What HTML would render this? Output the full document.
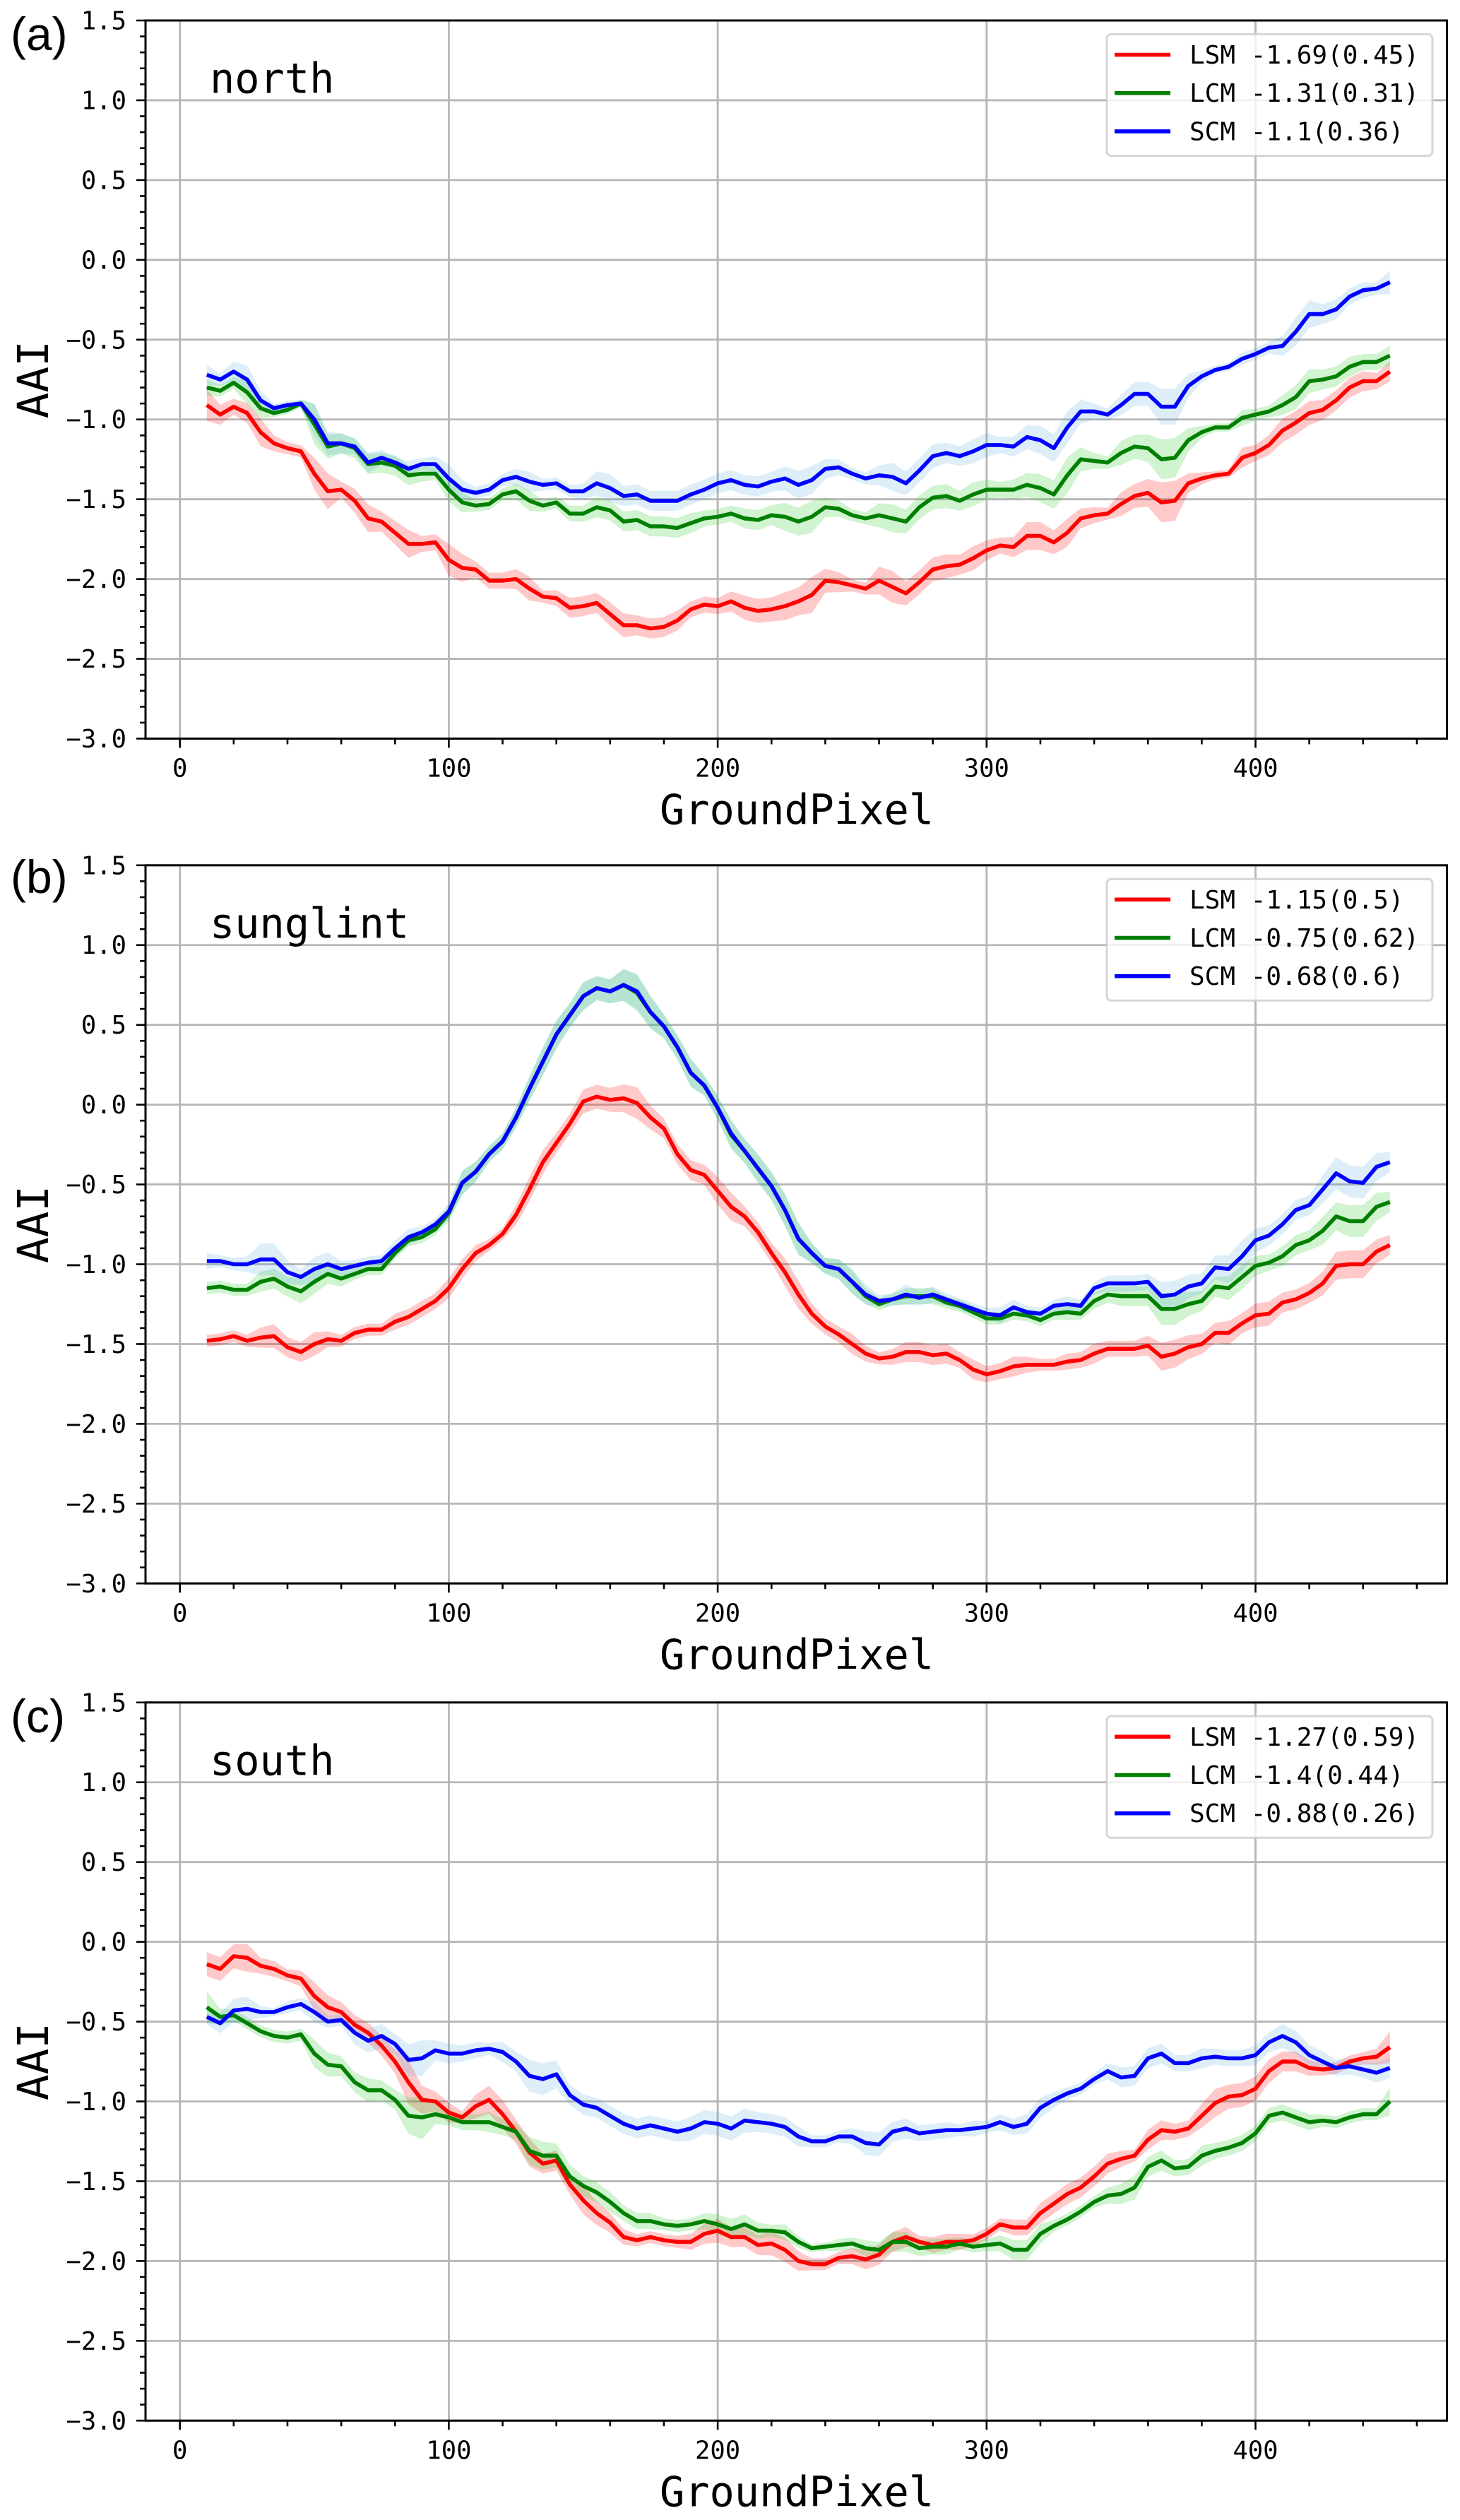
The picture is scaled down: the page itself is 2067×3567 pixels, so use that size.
<!DOCTYPE html>
<html lang="en">
<head>
<meta charset="utf-8">
<title>AAI by ground pixel</title>
<style>
html,body{margin:0;padding:0;background:#fff;width:2067px;height:3567px;overflow:hidden}
svg{display:block}
text{font-family:"DejaVu Sans Mono","Liberation Mono",monospace;fill:#000}
.panel-tag{font-family:"Liberation Sans",sans-serif}
</style>
</head>
<body>
<svg id="chart" xmlns="http://www.w3.org/2000/svg" width="2067" height="3567" viewBox="0 0 2067 3567"></svg>
<script>
// ---- Data: ground pixel categories ----
const groundPixels = [
10,15,20,25,30,35,40,45,50,55,60,65,70,75,80,85,90,95,100,105,
110,115,120,125,130,135,140,145,150,155,160,165,170,175,180,185,190,195,200,205,
210,215,220,225,230,235,240,245,250,255,260,265,270,275,280,285,290,295,300,305,
310,315,320,325,330,335,340,345,350,355,360,365,370,375,380,385,390,395,400,405,
410,415,420,425,430,435,440,445,450];

// ---- Axis tick labels ----
const xTickLabels = [0,100,200,300,400];
const xMinorTicks = [20,40,60,80,120,140,160,180,220,240,260,280,320,340,360,380,420,440,460];
const yTickLabels = [1.5,1.0,0.5,0.0,-0.5,-1.0,-1.5,-2.0,-2.5,-3.0];
const yMinorTicks = [1.4,1.3,1.2,1.1,0.9,0.8,0.7,0.6,0.4,0.3,0.2,0.1,-0.1,-0.2,-0.3,-0.4,-0.6,-0.7,-0.8,-0.9,-1.1,-1.2,-1.3,-1.4,-1.6,-1.7,-1.8,-1.9,-2.1,-2.2,-2.3,-2.4,-2.6,-2.7,-2.8,-2.9];

// ---- Panel (a) north ----
const northLSM = [
-.91,-.97,-.92,-.96,-1.08,-1.15,-1.18,-1.20,-1.34,-1.45,
-1.44,-1.51,-1.62,-1.64,-1.71,-1.78,-1.78,-1.77,-1.88,-1.93,
-1.94,-2.01,-2.01,-2.00,-2.06,-2.11,-2.12,-2.18,-2.17,-2.15,
-2.22,-2.29,-2.29,-2.31,-2.30,-2.26,-2.19,-2.16,-2.17,
-2.14,-2.18,-2.20,-2.19,-2.17,-2.14,-2.10,-2.01,-2.02,-2.04,
-2.06,-2.01,-2.05,-2.09,-2.02,-1.94,-1.92,-1.91,-1.87,-1.82,
-1.79,-1.80,-1.73,-1.73,-1.77,-1.71,-1.62,-1.60,-1.59,-1.53,
-1.48,-1.46,-1.52,-1.51,-1.40,-1.37,-1.35,-1.34,-1.24,-1.21,
-1.16,-1.07,-1.02,-.96,-.94,-.88,-.80,-.76,-.76,-.70];
const northLCM = [
-.80,-.82,-.77,-.83,-.93,-.96,-.94,-.90,-1.03,-1.17,
-1.15,-1.18,-1.28,-1.27,-1.29,-1.35,-1.34,-1.34,-1.44,-1.52,
-1.54,-1.53,-1.47,-1.45,-1.51,-1.54,-1.52,-1.59,-1.59,-1.55,
-1.57,-1.64,-1.63,-1.67,-1.67,-1.68,-1.65,-1.62,-1.61,
-1.59,-1.62,-1.63,-1.60,-1.61,-1.64,-1.61,-1.55,-1.56,-1.60,
-1.62,-1.60,-1.62,-1.64,-1.55,-1.49,-1.48,-1.51,-1.47,-1.44,
-1.44,-1.44,-1.41,-1.43,-1.47,-1.35,-1.25,-1.26,-1.27,-1.21,
-1.17,-1.18,-1.25,-1.24,-1.13,-1.08,-1.05,-1.05,-.99,-.97,
-.95,-.91,-.86,-.76,-.75,-.73,-.67,-.64,-.64,-.60];
const northSCM = [
-.72,-.75,-.70,-.75,-.88,-.93,-.91,-.90,-1.00,-1.15,
-1.15,-1.17,-1.27,-1.24,-1.27,-1.31,-1.28,-1.28,-1.37,-1.44,
-1.46,-1.44,-1.38,-1.36,-1.39,-1.41,-1.40,-1.45,-1.45,-1.40,
-1.43,-1.48,-1.47,-1.51,-1.51,-1.51,-1.47,-1.44,-1.40,
-1.38,-1.41,-1.42,-1.39,-1.37,-1.41,-1.38,-1.31,-1.30,-1.34,
-1.37,-1.35,-1.36,-1.40,-1.32,-1.23,-1.21,-1.23,-1.20,-1.16,
-1.16,-1.17,-1.11,-1.13,-1.18,-1.05,-.95,-.95,-.97,-.91,
-.84,-.84,-.92,-.92,-.79,-.73,-.69,-.67,-.62,-.59,
-.55,-.54,-.45,-.34,-.34,-.31,-.23,-.19,-.18,-.14];
const northLSMSpread = [
.08,.05,.04,.05,.07,.04,.03,.03,.08,.09,
.04,.06,.07,.05,.06,.07,.04,.04,.08,.07,
.04,.04,.04,.05,.06,.03,.04,.05,.05,.05,
.06,.06,.05,.05,.05,.05,.04,.04,.04,
.05,.06,.06,.06,.07,.07,.09,.06,.05,.03,
.03,.07,.08,.06,.06,.06,.06,.05,.06,.05,
.04,.05,.07,.07,.06,.07,.05,.04,.03,.06,
.06,.07,.10,.10,.05,.03,.02,.02,.05,.04,
.05,.06,.06,.06,.05,.05,.05,.05,.04,.05];
const northLCMSpread = [
.04,.03,.03,.06,.05,.02,.02,.02,.10,.06,
.05,.05,.05,.05,.05,.05,.04,.03,.06,.05,
.03,.03,.03,.04,.05,.03,.03,.04,.04,.05,
.05,.05,.05,.05,.05,.05,.05,.04,.04,
.04,.05,.05,.05,.07,.07,.08,.05,.04,.03,
.03,.06,.07,.06,.06,.06,.06,.05,.06,.05,
.04,.05,.06,.07,.07,.09,.06,.04,.03,.06,
.06,.07,.10,.10,.06,.03,.02,.02,.04,.03,
.03,.05,.06,.06,.05,.05,.05,.04,.04,.05];
const northSCMSpread = [
.05,.03,.05,.07,.05,.02,.02,.02,.08,.06,
.05,.04,.05,.04,.03,.04,.03,.04,.07,.05,
.03,.03,.03,.04,.05,.03,.03,.03,.04,.06,
.07,.05,.05,.05,.05,.05,.05,.05,.05,
.05,.05,.05,.05,.06,.07,.07,.05,.04,.03,
.03,.05,.07,.06,.06,.06,.05,.05,.06,.06,
.04,.05,.06,.07,.07,.08,.06,.04,.03,.05,
.06,.06,.09,.09,.06,.03,.02,.02,.03,.03,
.03,.05,.07,.07,.05,.05,.04,.04,.03,.06];

// ---- Panel (b) sunglint ----
const sunglintLSM = [
-1.48,-1.47,-1.45,-1.48,-1.46,-1.45,-1.52,-1.55,-1.50,-1.47,
-1.48,-1.43,-1.41,-1.41,-1.36,-1.33,-1.28,-1.23,-1.15,-1.03,
-.93,-.88,-.81,-.69,-.53,-.36,-.24,-.12,.02,.05,
.03,.04,.01,-.08,-.15,-.31,-.41,-.44,-.54,
-.64,-.70,-.80,-.93,-1.05,-1.19,-1.31,-1.39,-1.44,-1.50,
-1.56,-1.59,-1.58,-1.55,-1.55,-1.57,-1.56,-1.60,-1.66,-1.69,
-1.67,-1.64,-1.63,-1.63,-1.63,-1.61,-1.60,-1.56,-1.53,-1.53,
-1.53,-1.51,-1.58,-1.56,-1.52,-1.50,-1.43,-1.43,-1.37,-1.32,
-1.31,-1.24,-1.22,-1.18,-1.12,-1.01,-1.00,-1.00,-.92,-.88];
const sunglintLCM = [
-1.15,-1.14,-1.16,-1.16,-1.11,-1.09,-1.14,-1.17,-1.11,-1.06,
-1.09,-1.06,-1.03,-1.03,-.93,-.85,-.83,-.78,-.68,-.49,
-.42,-.31,-.23,-.08,.10,.27,.44,.56,.68,.73,
.71,.75,.70,.58,.49,.36,.20,.12,-.02,
-.19,-.29,-.40,-.51,-.66,-.84,-.93,-1.01,-1.03,-1.11,
-1.20,-1.25,-1.22,-1.20,-1.20,-1.20,-1.24,-1.26,-1.30,-1.34,
-1.34,-1.31,-1.32,-1.35,-1.31,-1.30,-1.31,-1.23,-1.19,-1.20,
-1.20,-1.20,-1.28,-1.28,-1.25,-1.23,-1.14,-1.15,-1.08,-1.01,
-.99,-.95,-.88,-.85,-.79,-.70,-.73,-.73,-.64,-.61];
const sunglintSCM = [
-.98,-.98,-1.00,-1.00,-.97,-.97,-1.05,-1.08,-1.03,-1.00,
-1.03,-1.01,-.99,-.98,-.90,-.83,-.80,-.75,-.67,-.49,
-.42,-.31,-.23,-.08,.10,.27,.44,.56,.68,.73,
.71,.75,.71,.58,.49,.36,.20,.12,-.02,
-.18,-.29,-.40,-.51,-.66,-.84,-.93,-1.01,-1.03,-1.11,
-1.19,-1.23,-1.22,-1.19,-1.21,-1.19,-1.22,-1.25,-1.28,-1.31,
-1.32,-1.27,-1.30,-1.31,-1.26,-1.25,-1.26,-1.15,-1.12,-1.12,
-1.12,-1.11,-1.20,-1.19,-1.14,-1.12,-1.02,-1.03,-.95,-.85,
-.82,-.75,-.66,-.63,-.53,-.43,-.48,-.49,-.39,-.36];
const sunglintLSMSpread = [
.03,.03,.03,.03,.05,.06,.05,.05,.06,.04,
.03,.03,.03,.03,.04,.04,.04,.04,.05,.05,
.04,.03,.03,.05,.06,.06,.05,.05,.06,.06,
.06,.07,.08,.06,.05,.05,.05,.05,.07,
.07,.05,.05,.05,.07,.07,.05,.04,.04,.05,
.04,.03,.04,.05,.05,.05,.05,.04,.05,.04,
.04,.05,.04,.03,.03,.04,.04,.05,.04,.04,
.04,.05,.07,.07,.06,.05,.05,.06,.05,.06,
.06,.05,.05,.05,.06,.07,.07,.07,.06,.05];
const sunglintLCMSpread = [
.03,.03,.03,.03,.05,.05,.05,.06,.06,.05,
.04,.03,.03,.03,.03,.03,.03,.03,.04,.06,
.05,.04,.04,.05,.06,.07,.07,.06,.07,.06,
.06,.08,.09,.08,.06,.06,.07,.05,.06,
.07,.06,.07,.07,.08,.08,.05,.04,.05,.06,
.04,.03,.03,.04,.04,.04,.03,.03,.03,.03,
.03,.03,.03,.03,.03,.04,.03,.04,.04,.05,
.05,.05,.08,.08,.06,.05,.05,.06,.06,.05,
.04,.05,.05,.05,.07,.07,.08,.08,.07,.05];
const sunglintSCMSpread = [
.04,.03,.03,.04,.08,.08,.06,.04,.06,.06,
.04,.03,.03,.03,.04,.04,.03,.03,.04,.06,
.05,.04,.04,.05,.06,.07,.07,.06,.07,.06,
.06,.08,.09,.08,.06,.06,.07,.05,.06,
.07,.06,.07,.07,.08,.08,.05,.04,.05,.06,
.05,.03,.03,.05,.04,.04,.03,.03,.03,.03,
.04,.04,.03,.03,.03,.04,.03,.03,.04,.04,
.04,.04,.07,.07,.06,.05,.06,.07,.08,.06,
.05,.05,.05,.05,.07,.08,.08,.08,.07,.05];

// ---- Panel (c) south ----
const southLSM = [
-.14,-.17,-.09,-.10,-.15,-.17,-.21,-.23,-.34,-.41,
-.44,-.52,-.57,-.65,-.75,-.88,-.99,-1.00,-1.07,-1.10,
-1.03,-.99,-1.08,-1.19,-1.32,-1.39,-1.37,-1.52,-1.62,-1.70,
-1.76,-1.85,-1.87,-1.85,-1.87,-1.88,-1.88,-1.83,-1.81,
-1.85,-1.85,-1.90,-1.89,-1.93,-2.00,-2.02,-2.02,-1.98,-1.97,
-1.99,-1.96,-1.88,-1.85,-1.88,-1.90,-1.88,-1.88,-1.87,-1.83,
-1.77,-1.79,-1.79,-1.70,-1.64,-1.58,-1.54,-1.47,-1.39,-1.36,
-1.34,-1.24,-1.18,-1.19,-1.17,-1.09,-1.01,-.97,-.96,-.92,
-.81,-.75,-.75,-.79,-.80,-.79,-.75,-.73,-.72,-.66];
const southLCM = [
-.41,-.47,-.46,-.51,-.56,-.59,-.60,-.58,-.70,-.77,
-.78,-.88,-.93,-.93,-.99,-1.09,-1.10,-1.08,-1.10,-1.13,
-1.13,-1.13,-1.16,-1.19,-1.31,-1.34,-1.34,-1.47,-1.53,-1.57,
-1.63,-1.70,-1.75,-1.75,-1.77,-1.78,-1.77,-1.75,-1.77,
-1.80,-1.77,-1.81,-1.81,-1.82,-1.88,-1.92,-1.91,-1.90,-1.89,
-1.92,-1.93,-1.88,-1.88,-1.92,-1.91,-1.91,-1.89,-1.91,-1.90,
-1.89,-1.93,-1.93,-1.83,-1.78,-1.74,-1.69,-1.63,-1.59,-1.58,
-1.54,-1.41,-1.37,-1.42,-1.41,-1.34,-1.31,-1.29,-1.26,-1.20,
-1.09,-1.07,-1.10,-1.13,-1.12,-1.13,-1.10,-1.08,-1.08,-1.00];
const southSCM = [
-.47,-.51,-.43,-.42,-.44,-.44,-.41,-.39,-.44,-.50,
-.49,-.57,-.62,-.59,-.64,-.74,-.73,-.68,-.70,-.70,
-.68,-.67,-.69,-.75,-.84,-.86,-.83,-.96,-1.02,-1.04,
-1.09,-1.14,-1.17,-1.15,-1.17,-1.19,-1.17,-1.13,-1.14,
-1.17,-1.12,-1.13,-1.14,-1.16,-1.22,-1.25,-1.25,-1.22,-1.22,
-1.26,-1.27,-1.19,-1.17,-1.20,-1.19,-1.18,-1.18,-1.17,-1.16,
-1.13,-1.16,-1.14,-1.04,-.99,-.95,-.92,-.86,-.81,-.85,
-.84,-.73,-.70,-.76,-.76,-.73,-.72,-.73,-.73,-.71,
-.63,-.59,-.63,-.71,-.75,-.79,-.78,-.80,-.82,-.79];
const southLSMSpread = [
.06,.06,.06,.07,.04,.04,.03,.04,.07,.06,
.05,.05,.05,.05,.06,.11,.07,.05,.05,.03,
.06,.07,.07,.06,.07,.05,.05,.05,.07,.06,
.05,.04,.03,.03,.03,.03,.04,.05,.06,
.05,.05,.05,.06,.06,.05,.03,.03,.03,.04,
.05,.05,.05,.05,.03,.04,.04,.04,.03,.03,
.03,.04,.04,.05,.05,.05,.05,.05,.05,.04,
.03,.05,.05,.04,.04,.06,.07,.06,.06,.06,
.06,.05,.05,.04,.03,.03,.03,.03,.04,.08];
const southLCMSpread = [
.08,.04,.03,.03,.03,.03,.03,.03,.07,.06,
.05,.05,.06,.05,.05,.09,.11,.05,.04,.04,
.04,.05,.04,.04,.07,.07,.06,.06,.05,.05,
.05,.04,.04,.04,.03,.03,.03,.04,.05,
.05,.05,.04,.03,.04,.03,.02,.02,.03,.03,
.04,.04,.05,.05,.04,.04,.04,.03,.03,.03,
.04,.05,.05,.05,.03,.03,.03,.03,.04,.05,
.06,.05,.05,.04,.04,.05,.04,.04,.04,.04,
.04,.04,.04,.04,.03,.03,.03,.03,.03,.07];
const southSCMSpread = [
.04,.05,.06,.06,.03,.02,.03,.03,.05,.03,
.03,.06,.06,.06,.05,.08,.09,.05,.05,.04,
.04,.03,.05,.05,.08,.08,.07,.05,.05,.05,
.05,.05,.05,.05,.05,.05,.06,.06,.06,
.06,.06,.05,.05,.05,.05,.03,.03,.03,.04,
.06,.06,.05,.05,.04,.04,.04,.03,.04,.03,
.04,.04,.05,.05,.04,.03,.03,.03,.04,.05,
.05,.05,.05,.04,.04,.05,.04,.04,.04,.05,
.05,.06,.06,.05,.05,.04,.04,.04,.05,.05];

// ---- Legend text ----
const northLegend = ['LSM -1.69(0.45)','LCM -1.31(0.31)','SCM -1.1(0.36)'];
const sunglintLegend = ['LSM -1.15(0.5)','LCM -0.75(0.62)','SCM -0.68(0.6)'];
const southLegend = ['LSM -1.27(0.59)','LCM -1.4(0.44)','SCM -0.88(0.26)'];

// ---- Layout ----
const svg = document.getElementById('chart');
const NS = 'http://www.w3.org/2000/svg';
const AX_LEFT = 206, AX_RIGHT = 2048.5, AX_H = 1016.5;
const FONT = 35.5, LEGEND_FONT = 36, BIG = 58.6, BAND_SCALE = 1.25;
const STYLES = [
  {key:'lsm', color:'#ff0000', fill:'#ff0000', op:.21},
  {key:'lcm', color:'#008000', fill:'#32cd32', op:.23},
  {key:'scm', color:'#0000ff', fill:'#3498db', op:.17}
];
function xAxis(v){ return 254.7 + v * 3.807; }
function yAxis(v, top){ return top + (1.5 - v) * (AX_H / 4.5); }

function add(parent, tag, attrs, name, txt){
  const el = document.createElementNS(NS, tag);
  for (const k in attrs) el.setAttribute(k, attrs[k]);
  
  
  if (txt !== undefined) el.textContent = txt;
  parent.appendChild(el);
  return el;
}

function drawPanel(p){
  const top = p.top, bottom = top + AX_H;
  const g = add(svg, 'g', {}, 'panel-' + p.title);

  // grid
  const grid = add(g, 'g', {stroke:'#b6b6b6','stroke-width':2.8}, 'grid-' + p.title);
  xTickLabels.forEach(v => add(grid, 'line', {x1:xAxis(v),x2:xAxis(v),y1:top,y2:bottom}, 'x-gridline'));
  yTickLabels.forEach(v => add(grid, 'line', {x1:AX_LEFT,x2:AX_RIGHT,y1:yAxis(v,top),y2:yAxis(v,top)}, 'y-gridline'));

  // bands
  p.series.forEach((values, i) => {
    const spread = p.spreads[i];
    const up = groundPixels.map((x, j) => xAxis(x).toFixed(1) + ',' + yAxis(values[j] + spread[j] * BAND_SCALE, top).toFixed(1));
    const dn = groundPixels.map((x, j) => xAxis(x).toFixed(1) + ',' + yAxis(values[j] - spread[j] * BAND_SCALE, top).toFixed(1)).reverse();
    add(g, 'polygon', {points: up.concat(dn).join(' '), fill: STYLES[i].fill, 'fill-opacity': STYLES[i].op, stroke:'none'}, STYLES[i].key + '-band');
  });

  // lines
  p.series.forEach((values, i) => {
    const pts = groundPixels.map((x, j) => xAxis(x).toFixed(1) + ',' + yAxis(values[j], top).toFixed(1));
    add(g, 'polyline', {points: pts.join(' '), fill:'none', stroke: STYLES[i].color, 'stroke-width':5.6, 'stroke-linejoin':'round', 'stroke-linecap':'butt'}, STYLES[i].key + '-line');
  });

  // spines
  add(g, 'rect', {x:AX_LEFT,y:top,width:AX_RIGHT-AX_LEFT,height:AX_H,fill:'none',stroke:'#000','stroke-width':3}, 'axes-frame');

  // ticks
  const ticks = add(g, 'g', {stroke:'#000','stroke-width':2.6}, 'ticks-' + p.title);
  xTickLabels.forEach(v => add(ticks, 'line', {x1:xAxis(v),x2:xAxis(v),y1:bottom,y2:bottom+13}, 'x-major-tick'));
  xMinorTicks.forEach(v => add(ticks, 'line', {x1:xAxis(v),x2:xAxis(v),y1:bottom,y2:bottom+8}, 'x-minor-tick'));
  yTickLabels.forEach(v => add(ticks, 'line', {x1:AX_LEFT-13,x2:AX_LEFT,y1:yAxis(v,top),y2:yAxis(v,top)}, 'y-major-tick'));
  yMinorTicks.forEach(v => add(ticks, 'line', {x1:AX_LEFT-8,x2:AX_LEFT,y1:yAxis(v,top),y2:yAxis(v,top)}, 'y-minor-tick'));

  // tick labels
  xTickLabels.forEach(v => add(g, 'text', {x:xAxis(v),y:bottom+54,'font-size':FONT,'text-anchor':'middle'}, 'x-tick-label', String(v)));
  yTickLabels.forEach(v => {
    const s = v.toFixed(1).replace('-', '\u2212');
    add(g, 'text', {x:179,y:yAxis(v,top)+12.5,'font-size':FONT,'text-anchor':'end'}, 'y-tick-label', s);
  });

  // axis titles
  add(g, 'text', {x:1128,y:bottom+121,'font-size':BIG,'text-anchor':'middle'}, 'x-axis-title', 'GroundPixel');
  add(g, 'text', {x:0,y:0,'font-size':61,'text-anchor':'middle',transform:'translate(68,' + (top + AX_H/2) + ') rotate(-90)'}, 'y-axis-title', 'AAI');

  // panel labels
  add(g, 'text', {x:297,y:top+102.5,'font-size':BIG}, 'region-label', p.title);
  const tag = add(g, 'text', {x:15,y:top+p.tagDy,'font-size':66}, 'panel-tag', p.tag);
  tag.setAttribute('class', 'panel-tag');

  // legend
  const lg = add(g, 'g', {}, 'legend-' + p.title);
  add(lg, 'rect', {x:1567,y:top+19.5,width:461,height:172,rx:6,ry:6,fill:'#fff','fill-opacity':.8,stroke:'#cccccc','stroke-opacity':.8,'stroke-width':3}, 'legend-box');
  p.legend.forEach((label, i) => {
    const cy = top + 48.5 + i * 54.2;
    add(lg, 'line', {x1:1578,x2:1657,y1:cy,y2:cy,stroke:STYLES[i].color,'stroke-width':5.6}, 'legend-swatch-' + STYLES[i].key);
    add(lg, 'text', {x:1684,y:cy+12.5,'font-size':LEGEND_FONT}, 'legend-entry-' + STYLES[i].key, label);
  });
}

drawPanel({title:'north', tag:'(a)', top:29, tagDy:42, legend:northLegend,
  series:[northLSM,northLCM,northSCM], spreads:[northLSMSpread,northLCMSpread,northSCMSpread]});
drawPanel({title:'sunglint', tag:'(b)', top:1224.8, tagDy:39, legend:sunglintLegend,
  series:[sunglintLSM,sunglintLCM,sunglintSCM], spreads:[sunglintLSMSpread,sunglintLCMSpread,sunglintSCMSpread]});
drawPanel({title:'south', tag:'(c)', top:2409.8, tagDy:42, legend:southLegend,
  series:[southLSM,southLCM,southSCM], spreads:[southLSMSpread,southLCMSpread,southSCMSpread]});
</script>
</body>
</html>
